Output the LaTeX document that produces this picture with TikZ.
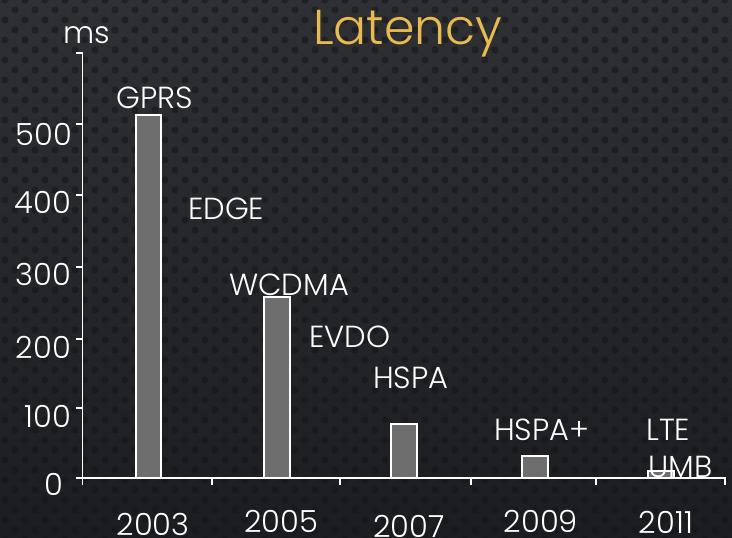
\documentclass[tikz,border=0pt]{standalone}
\usepackage{fontspec}
\setmainfont{Poppins Light}
\definecolor{bgtop}{RGB}{46,48,52}
\definecolor{bgbot}{RGB}{28,29,32}
\definecolor{dotc}{RGB}{20,21,24}
\definecolor{barfill}{RGB}{110,110,110}
\definecolor{titlec}{RGB}{232,186,80}
\tikzset{
  lbl/.style={text=white,font=\fontsize{30.5}{31}\selectfont,inner sep=0pt},
  yl/.style={lbl,anchor=base east},
  barbox/.style={draw=white,line width=1.5pt,fill=barfill},
  axisline/.style={draw=white,line width=1.8pt},
}
\begin{document}
\begin{tikzpicture}[x=1pt,y=-1pt]
\useasboundingbox (0,0) rectangle (732,538);
\shade[top color=bgtop,bottom color=bgbot] (0,0) rectangle (732,538);
\foreach \r in {0,...,54}{
  \pgfmathsetmacro{\off}{mod(\r,2)*10}
  \foreach \c in {0,...,37}{
    \fill[dotc,opacity=0.55] (\c*20+5+\off,\r*10) circle (3.6);
  }
}
% bars
\draw[barbox] (136,478) rectangle (161,115);
\draw[barbox] (264,478) rectangle (290,297);
\draw[barbox] (391,478) rectangle (417,424);
\draw[barbox] (522,478) rectangle (548,456);
\draw[barbox] (648,478) rectangle (674,471);
% axes
\draw[axisline] (82.5,53) -- (82.5,485);
\draw[axisline] (76,478) -- (726,478);
\foreach \y in {53,124,195,267,339,408}{
  \draw[axisline] (76,\y) -- (82.5,\y);
}
\foreach \x in {212,340,471,596,725}{
  \draw[axisline] (\x,478) -- (\x,485);
}
% y labels
\node[yl] (l500) at (72,145) {500};
\node[yl] (l400) at (71,213) {400};
\node[yl] (l300) at (71,285) {300};
\node[yl] (l200) at (71,358) {200};
\node[yl] (l100) at (71,427) {100};
\node[yl] (l0) at (63,495) {0};
\node[lbl,anchor=base west] (ms) at (63,43) {ms};
% title
\node[text=titlec,font=\fontsize{49}{50}\selectfont,inner sep=0pt,anchor=base west] (title) at (313,45) {Latency};
% bar labels
\node[lbl,anchor=base west] (gprs) at (116,108) {GPRS};
\node[lbl,anchor=base west] (edge) at (188,219) {EDGE};
\node[lbl,anchor=base west] (wcdma) at (229,295) {WCDMA};
\node[lbl,anchor=base west] (evdo) at (309,347) {EVDO};
\node[lbl,anchor=base west] (hspa) at (373,388) {HSPA};
\node[lbl,anchor=base west] (hspap) at (494,440) {HSPA+};
\node[lbl,anchor=base west] (lte) at (646,440) {LTE};
\node[lbl,anchor=base west] (umb) at (648,477) {UMB};
% years
\node[lbl,anchor=base] (y2003) at (153,535) {2003};
\node[lbl,anchor=base] (y2005) at (281,532) {2005};
\node[lbl,anchor=base] (y2007) at (409,537) {2007};
\node[lbl,anchor=base] (y2009) at (541,532) {2009};
\node[lbl,anchor=base] (y2011) at (666,533) {2011};
\end{tikzpicture}
\end{document}
